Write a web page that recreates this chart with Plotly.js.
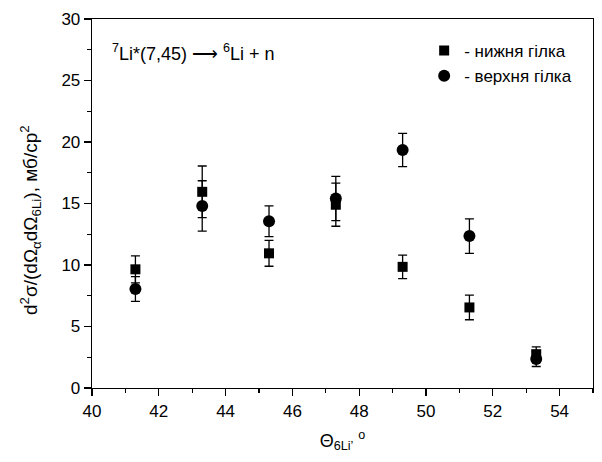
<!DOCTYPE html>
<html>
<head>
<meta charset="utf-8">
<script src="https://cdn.plot.ly/plotly-3.0.1.min.js"></script>
<style>html,body{margin:0;padding:0;background:#fff;}#chart{width:602px;height:462px;}</style>
</head>
<body>
<div id="chart"></div>
<script>
// Angles, degrees
const angles = [41.3, 43.3, 45.3, 47.3, 49.3, 51.3, 53.3];
// Lower branch (нижня гілка)
const lowerValues = [9.65, 15.95, 10.95, 14.9, 9.85, 6.55, 2.75];
const lowerErrors = [1.1, 2.1, 1.05, 1.75, 0.95, 1.0, 0.6];
// Upper branch (верхня гілка)
const upperValues = [8.05, 14.8, 13.55, 15.4, 19.35, 12.35, 2.35];
const upperErrors = [1.0, 2.05, 1.25, 1.8, 1.35, 1.4, 0.6];
const seriesNames = ['- нижня гілка', '- верхня гілка'];
const xTicks = [40, 42, 44, 46, 48, 50, 52, 54];
const yTicks = [0, 5, 10, 15, 20, 25, 30];

const font = 'Liberation Sans, Arial, sans-serif';
const errStyle = {type: 'data', visible: true, color: '#000', thickness: 1.3, width: 4.5};

const traces = [
  {
    x: angles, y: lowerValues, name: seriesNames[0], type: 'scatter', mode: 'markers',
    marker: {symbol: 'square', size: 10, color: '#000'},
    error_y: Object.assign({array: lowerErrors}, errStyle)
  },
  {
    x: angles, y: upperValues, name: seriesNames[1], type: 'scatter', mode: 'markers',
    marker: {symbol: 'circle', size: 12, color: '#000'},
    error_y: Object.assign({array: upperErrors}, errStyle)
  }
];

const axisCommon = {
  showline: true, linecolor: '#000', linewidth: 1.3, mirror: true,
  ticks: 'outside', ticklen: 7, tickwidth: 1.3, tickcolor: '#000',
  showgrid: false, zeroline: false,
  tickfont: {family: font, size: 17, color: '#000'}
};

const layout = {
  width: 602, height: 462,
  margin: {l: 92, r: 9, t: 19, b: 74},
  paper_bgcolor: '#fff', plot_bgcolor: '#fff',
  font: {family: font, color: '#000'},
  showlegend: true,
  legend: {
    x: 0.663, y: 0.962, xanchor: 'left', yanchor: 'top',
    bgcolor: 'rgba(0,0,0,0)', borderwidth: 0,
    font: {family: font, size: 17, color: '#000'},
    itemwidth: 30
  },
  xaxis: Object.assign({}, axisCommon, {
    range: [40, 55], tickvals: xTicks, ticktext: xTicks.map(String),
    minor: {dtick: 1, ticks: 'outside', ticklen: 4, tickwidth: 1.3, tickcolor: '#000', showgrid: false},
    title: {text: 'Θ<sub>6Li’</sub> <sup>o</sup>', font: {family: font, size: 18, color: '#000'}, standoff: 14}
  }),
  yaxis: Object.assign({}, axisCommon, {
    range: [0, 30], tickvals: yTicks, ticktext: yTicks.map(String),
    minor: {dtick: 2.5, ticks: 'outside', ticklen: 4, tickwidth: 1.3, tickcolor: '#000', showgrid: false}
  }),
  annotations: [
    {
      xref: 'paper', yref: 'paper', x: 0.035, y: 0.91, xanchor: 'left', yanchor: 'middle',
      showarrow: false,
      text: '<sup>7</sup>Li*(7,45) ⟶ <sup>6</sup>Li + n',
      font: {family: font, size: 18, color: '#000'}
    },
    {
      xref: 'paper', yref: 'paper', x: -0.124, y: 0.455, xanchor: 'center', yanchor: 'middle',
      showarrow: false, textangle: -90,
      text: 'd<sup>2</sup>σ/(dΩ<sub>α</sub>dΩ<sub>6Li</sub>), мб/ср<sup>2</sup>',
      font: {family: font, size: 19, color: '#000'}
    }
  ]
};

Plotly.newPlot('chart', traces, layout, {displayModeBar: false, staticPlot: true});
</script>
</body>
</html>
